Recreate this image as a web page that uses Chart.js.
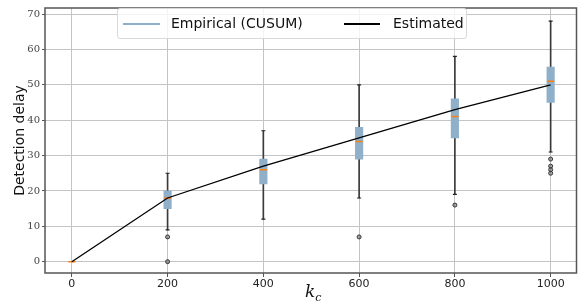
<!DOCTYPE html>
<html>
<head>
<meta charset="utf-8">
<script src="https://cdn.jsdelivr.net/npm/chart.js@4.4.1/dist/chart.umd.min.js"></script>
<style>
    body { margin: 0; background: #fff; }
    #wrap { position: relative; width: 582px; height: 304px; }
    #legend {
        position: absolute; left: 117px; top: 8px; width: 350px; height: 31px;
        background: rgba(255, 255, 255, 0.8); border: 1px solid #d9d9d9; border-radius: 3px;
        font-family: 'DejaVu Sans', sans-serif; font-size: 14px; color: #111;
        box-sizing: border-box;
    }
    .item { position: absolute; top: 6px; line-height: 17px; }
    .swatch { position: absolute; top: 14px; height: 2px; }
    #xtitle {
        position: absolute; left: 305px; top: 281px;
        font-family: 'DejaVu Serif', serif; font-style: italic; font-size: 17px; color: #111;
    }
    #xtitle sub { font-size: 11px; }
</style>
</head>
<body>
<div id="wrap">
    <canvas id="chart" width="582" height="304"></canvas>
    <div id="legend">
        <span class="swatch" style="left: 5px; width: 37px; background: #8fb0c8;"></span>
        <span class="item" style="left: 53px;">Empirical (CUSUM)</span>
        <span class="swatch" style="left: 226px; width: 36px; background: #000; height: 1.5px;"></span>
        <span class="item" style="left: 275px;">Estimated</span>
    </div>
    <div id="xtitle">k<sub>c</sub></div>
</div>
<script>
// Data
const kValues = [0, 200, 400, 600, 800, 1000];
const q1 = [0, 15, 22, 29, 35, 45];
const q3 = [0, 20, 29, 38, 46, 55];
const medians = [0, 18, 26, 34, 41, 51];
const whiskerLow = [0, 9, 12, 18, 19, 31];
const whiskerHigh = [0, 25, 37, 50, 58, 68];
const outlierK = [200, 200, 600, 800, 1000, 1000, 1000, 1000];
const outlierY = [7, 0, 7, 16, 29, 27, 26, 25];
const estimated = [0, 18, 27, 35, 43, 50];

const xTicks = [0, 200, 400, 600, 800, 1000];
const yTicks = [0, 10, 20, 30, 40, 50, 60, 70];

const boxColor = '#8fb0c8';
const gridColor = '#c4c4c4';

// Caps only where there is a whisker
const caps = [];
kValues.forEach((k, i) => {
    if (whiskerHigh[i] > whiskerLow[i]) {
        caps.push({ x: k, y: whiskerLow[i] });
        caps.push({ x: k, y: whiskerHigh[i] });
    }
});

// Frame around the plot area
const framePlugin = {
    id: 'frame',
    afterDatasetsDraw(chart) {
        const a = chart.chartArea;
        const ctx = chart.ctx;
        ctx.save();
        ctx.strokeStyle = '#555';
        ctx.lineWidth = 1.5;
        ctx.strokeRect(a.left, a.top, a.right - a.left, a.bottom - a.top);
        ctx.restore();
    }
};

new Chart(document.getElementById('chart'), {
    type: 'bar',
    data: {
        datasets: [
            {
                type: 'line',
                label: 'Estimated',
                data: kValues.map((k, i) => ({ x: k, y: estimated[i] })),
                borderColor: '#000',
                borderWidth: 1.3,
                pointRadius: 0,
                tension: 0,
                order: 0
            },
            {
                type: 'scatter',
                label: 'median',
                data: kValues.map((k, i) => ({ x: k, y: medians[i] })),
                pointStyle: 'line',
                pointRadius: 3.5,
                borderColor: '#ff7f0e',
                borderWidth: 1.5,
                order: 1
            },
            {
                label: 'box',
                data: kValues.map((k, i) => ({ x: k, y: [q1[i], q3[i]] })),
                backgroundColor: boxColor,
                barThickness: 7.5,
                grouped: false,
                order: 2
            },
            {
                type: 'scatter',
                label: 'caps',
                data: caps,
                pointStyle: 'line',
                pointRadius: 2,
                borderColor: '#222',
                borderWidth: 1.2,
                order: 3
            },
            {
                type: 'scatter',
                label: 'outliers',
                data: outlierK.map((k, i) => ({ x: k, y: outlierY[i] })),
                pointRadius: 2,
                borderColor: '#333',
                backgroundColor: 'rgba(90, 90, 90, 0.5)',
                borderWidth: 1,
                order: 3
            },
            {
                label: 'whisker',
                data: kValues.map((k, i) => ({ x: k, y: [whiskerLow[i], whiskerHigh[i]] })),
                backgroundColor: '#3a3a3a',
                barThickness: 1,
                grouped: false,
                order: 4
            }
        ]
    },
    options: {
        responsive: false,
        animation: false,
        devicePixelRatio: 1,
        layout: { padding: { top: 8, right: 1, left: 0, bottom: 0 } },
        plugins: {
            legend: { display: false },
            tooltip: { enabled: false }
        },
        scales: {
            x: {
                type: 'linear',
                min: -56,
                max: 1054,
                offset: false,
                afterBuildTicks: (scale) => { scale.ticks = xTicks.map(v => ({ value: v })); },
                afterFit: (scale) => { scale.height = 31; },
                grid: { color: gridColor, lineWidth: 1, tickColor: '#555', tickLength: 4, offset: false },
                border: { display: false },
                ticks: {
                    color: '#222',
                    padding: 1,
                    maxRotation: 0,
                    font: { family: 'DejaVu Sans', size: 11 },
                    callback: (v) => String(v)
                }
            },
            y: {
                type: 'linear',
                min: -3.2,
                max: 71.7,
                afterBuildTicks: (scale) => { scale.ticks = yTicks.map(v => ({ value: v })); },
                afterFit: (scale) => { scale.width = 45; },
                grid: { color: gridColor, lineWidth: 1, tickColor: '#555', tickLength: 3 },
                border: { display: false },
                ticks: {
                    color: '#444',
                    padding: 2,
                    font: { family: 'DejaVu Serif', size: 10 }
                },
                title: {
                    display: true,
                    text: 'Detection delay',
                    color: '#111',
                    padding: { top: 12, bottom: 0 },
                    font: { family: 'DejaVu Sans', size: 14 }
                }
            }
        }
    },
    plugins: [framePlugin]
});
</script>
</body>
</html>
